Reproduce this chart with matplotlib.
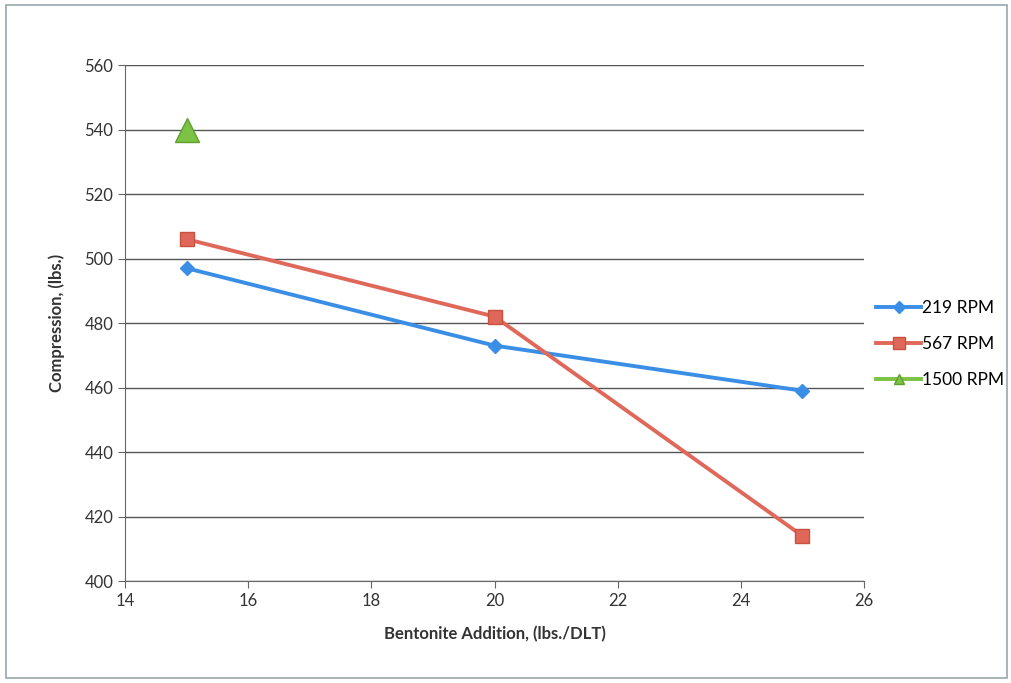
import matplotlib.pyplot as plt
from matplotlib.lines import Line2D
from matplotlib.patches import Rectangle

plt.rcParams['font.family'] = ['Lato', 'DejaVu Sans']

# bentonite addition (lbs./DLT) and compression (lbs.)
x_219 = [15, 20, 25]
y_219 = [497, 473, 459]
x_567 = [15, 20, 25]
y_567 = [506, 482, 414]
x_1500 = [15]
y_1500 = [540]

c_219, c_567, c_1500 = '#3a8ee6', '#e0685a', '#7cc244'

fig = plt.figure(figsize=(10.11, 6.83), dpi=100)
ax = fig.add_axes([0.1237, 0.1493, 0.7309, 0.7555])

ax.plot(x_219, y_219, color=c_219, lw=2.8, marker='D', ms=7, zorder=3)
ax.plot(x_567, y_567, color=c_567, lw=2.8, marker='s', ms=10,
        mec='#c9523f', zorder=3)
ax.plot(x_1500, y_1500, color=c_1500, lw=2.8, marker='^', ms=17,
        mec='#5fa02e', ls='none', zorder=3)

ax.set_xlim(14, 26)
ax.set_ylim(400, 560)
ax.set_xticks(range(14, 27, 2))
ax.set_yticks(range(400, 561, 20))
ax.grid(axis='y', color='#555555', lw=1.0)
ax.set_axisbelow(True)
for s in ['top', 'right']:
    ax.spines[s].set_visible(False)
for s in ['left', 'bottom']:
    ax.spines[s].set_color('#666666')
ax.tick_params(direction='out', length=5, color='#666666',
               labelsize=12, labelcolor='#333333')

ax.set_xlabel('Bentonite Addition, (lbs./DLT)', fontsize=12, fontweight='bold',
              color='#333333', labelpad=12)
ax.set_ylabel('Compression, (lbs.)', fontsize=12, fontweight='bold',
              color='#333333', labelpad=14)

# legend keys: short line with a small marker, excel style
handles = [
    Line2D([], [], color=c_219, lw=2.8, marker='D', ms=6),
    Line2D([], [], color=c_567, lw=2.8, marker='s', ms=8, mec='#c9523f'),
    Line2D([], [], color=c_1500, lw=2.8, marker='^', ms=7, mec='#5fa02e'),
]
ax.legend(handles, ['219 RPM', '567 RPM', '1500 RPM'], loc='center left',
          bbox_to_anchor=(1.0, 0.459), frameon=False, fontsize=12.5,
          handlelength=2.6, handletextpad=0.05, labelspacing=1.15,
          borderaxespad=0.3)

# outer frame of the chart area
fig.patches.append(Rectangle((0.006, 0.008), 0.99, 0.985, transform=fig.transFigure,
                             fill=False, ec='#9aa7ad', lw=1.2))

fig.savefig('out.png', dpi=100)
